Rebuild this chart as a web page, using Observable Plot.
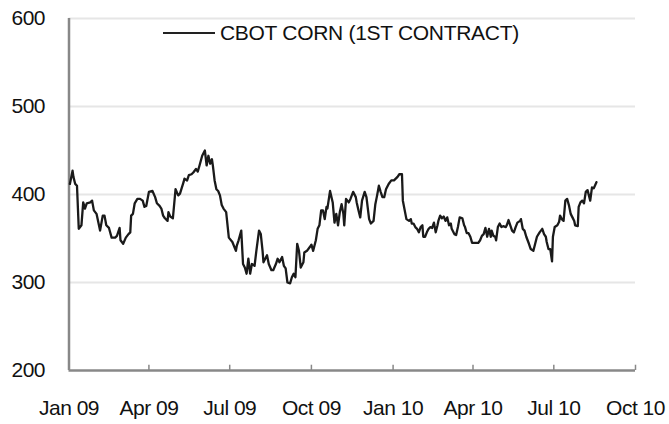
<!DOCTYPE html>
<html>
<head>
<meta charset="utf-8">
<script src="https://cdn.jsdelivr.net/npm/d3@7"></script>
<script src="https://cdn.jsdelivr.net/npm/@observablehq/plot@0.6"></script>
<style>
  html, body { margin: 0; padding: 0; background: #fff; }
  #wrap { position: relative; width: 669px; height: 424px; font-family: "Liberation Sans", Arial, sans-serif; }
  #legend { position: absolute; left: 163px; top: 21px; display: flex; align-items: center; font-size: 21px; color: #111; letter-spacing: -0.3px; white-space: nowrap; }
  #legend .sw { width: 52px; height: 0; border-top: 2px solid #222; margin-right: 5px; }
</style>
</head>
<body>
<div id="wrap"><div id="legend"><span class="sw"></span><span>CBOT CORN (1ST CONTRACT)</span></div></div>
<script>
const seriesName = "CBOT CORN (1ST CONTRACT)";
const dates = [
"2009-01-02","2009-01-05","2009-01-06","2009-01-08","2009-01-10","2009-01-12","2009-01-15","2009-01-17","2009-01-19","2009-01-21",
"2009-01-25","2009-01-27","2009-01-29","2009-02-01","2009-02-05","2009-02-08","2009-02-10","2009-02-12","2009-02-15","2009-02-18",
"2009-02-22","2009-02-24","2009-02-27","2009-02-28","2009-03-03","2009-03-06","2009-03-09","2009-03-11","2009-03-12","2009-03-14",
"2009-03-16","2009-03-19","2009-03-22","2009-03-25","2009-03-27","2009-03-29","2009-04-01","2009-04-05","2009-04-08","2009-04-10",
"2009-04-13","2009-04-15","2009-04-17","2009-04-19","2009-04-22","2009-04-23","2009-04-25","2009-04-28","2009-05-01","2009-05-04",
"2009-05-06","2009-05-10","2009-05-11","2009-05-14","2009-05-16","2009-05-19","2009-05-21","2009-05-24","2009-05-26","2009-05-28",
"2009-05-31","2009-06-03","2009-06-05","2009-06-07","2009-06-09","2009-06-11","2009-06-12","2009-06-14","2009-06-16","2009-06-18",
"2009-06-20","2009-06-22","2009-06-24","2009-06-27","2009-06-30","2009-07-04","2009-07-08","2009-07-09","2009-07-11","2009-07-14",
"2009-07-16","2009-07-18","2009-07-20","2009-07-22","2009-07-24","2009-07-26","2009-07-29","2009-07-31","2009-08-03","2009-08-05",
"2009-08-07","2009-08-08","2009-08-10","2009-08-12","2009-08-14","2009-08-17","2009-08-19","2009-08-22","2009-08-24","2009-08-26",
"2009-08-29","2009-08-31","2009-09-02","2009-09-04","2009-09-07","2009-09-09","2009-09-11","2009-09-13","2009-09-15","2009-09-17",
"2009-09-19","2009-09-22","2009-09-23","2009-09-26","2009-09-29","2009-10-01","2009-10-03","2009-10-06","2009-10-08","2009-10-10",
"2009-10-12","2009-10-14","2009-10-16","2009-10-18","2009-10-19","2009-10-22","2009-10-25","2009-10-27","2009-10-29","2009-10-31",
"2009-11-02","2009-11-04","2009-11-06","2009-11-07","2009-11-09","2009-11-12","2009-11-14","2009-11-17","2009-11-20","2009-11-21",
"2009-11-23","2009-11-25","2009-11-27","2009-11-30","2009-12-02","2009-12-05","2009-12-07","2009-12-10","2009-12-12","2009-12-14",
"2009-12-16","2009-12-18","2009-12-20","2009-12-22","2009-12-24","2009-12-27","2009-12-30","2010-01-02","2010-01-04","2010-01-06",
"2010-01-08","2010-01-11","2010-01-12","2010-01-16","2010-01-19","2010-01-21","2010-01-22","2010-01-24","2010-01-26","2010-01-28",
"2010-01-30","2010-02-01","2010-02-03","2010-02-04","2010-02-06","2010-02-08","2010-02-10","2010-02-12","2010-02-14","2010-02-16",
"2010-02-18","2010-02-20","2010-02-21","2010-02-23","2010-02-25","2010-02-27","2010-03-01","2010-03-03","2010-03-05","2010-03-07",
"2010-03-08","2010-03-11","2010-03-13","2010-03-15","2010-03-17","2010-03-20","2010-03-22","2010-03-23","2010-03-25","2010-03-27",
"2010-03-29","2010-03-31","2010-04-04","2010-04-07","2010-04-09","2010-04-11","2010-04-13","2010-04-15","2010-04-17","2010-04-19",
"2010-04-21","2010-04-22","2010-04-24","2010-04-26","2010-04-27","2010-04-29","2010-05-01","2010-05-03","2010-05-05","2010-05-08",
"2010-05-09","2010-05-11","2010-05-13","2010-05-15","2010-05-17","2010-05-19","2010-05-21","2010-05-24","2010-05-25","2010-05-27",
"2010-05-29","2010-05-31","2010-06-03","2010-06-05","2010-06-08","2010-06-10","2010-06-12","2010-06-15","2010-06-18","2010-06-20",
"2010-06-22","2010-06-23","2010-06-25","2010-06-27","2010-06-29","2010-06-30","2010-07-02","2010-07-05","2010-07-07","2010-07-08",
"2010-07-10","2010-07-12","2010-07-14","2010-07-16","2010-07-18","2010-07-20","2010-07-22","2010-07-24","2010-07-25","2010-07-28",
"2010-07-29","2010-07-31","2010-08-02","2010-08-04","2010-08-06","2010-08-08","2010-08-09","2010-08-11","2010-08-13","2010-08-15",
"2010-08-18"
];
const prices = [
412,427,420,412,410,361,365,391,384,390,
391,393,382,378,359,376,376,365,362,351,
351,353,362,348,344,351,355,357,376,378,
390,395,395,393,386,387,403,404,397,390,
387,384,376,373,370,380,375,373,406,399,
401,414,418,416,422,423,425,429,426,433,
444,450,433,444,435,440,433,416,406,404,
399,388,384,380,351,346,336,342,348,359,
321,317,310,327,310,321,319,336,359,355,
336,323,327,331,321,314,314,321,327,323,
329,319,316,300,299,306,310,306,344,336,
317,323,334,336,340,343,336,348,361,365,
382,382,372,386,384,404,391,368,378,365,
380,389,378,365,395,391,395,403,397,391,
382,374,393,403,397,372,367,370,389,399,
410,403,397,397,406,412,416,416,418,420,
423,423,393,372,370,372,367,367,363,361,
357,363,365,352,352,357,361,363,362,368,
357,365,370,376,373,375,370,374,365,367,
361,355,354,363,374,373,365,363,356,356,
352,345,345,345,348,353,355,362,352,361,
352,359,353,352,348,363,367,363,364,363,
365,371,365,359,357,363,368,370,372,361,
359,352,344,338,336,344,352,357,361,355,
352,346,338,338,324,352,363,365,369,376,
372,370,393,395,388,378,374,370,365,364,
386,391,393,390,403,405,401,393,408,407,
414
];
const yTicks = [200, 300, 400, 500, 600];
const gridValues = [300, 400, 500, 600];
const xTickDates = ["2009-01-01","2009-04-01","2009-07-01","2009-10-01","2010-01-01","2010-04-01","2010-07-01","2010-10-01"];

const parse = d3.utcParse("%Y-%m-%d");
const data = dates.map((d, i) => ({date: parse(d), price: prices[i]}));
const xt = xTickDates.map(parse);
const fmt = d3.utcFormat("%b %y");

const chart = Plot.plot({
  width: 669,
  height: 424,
  marginLeft: 68.5,
  marginRight: 34,
  marginTop: 18,
  marginBottom: 54,
  style: {fontFamily: "'Liberation Sans', Arial, sans-serif", fontSize: "21px", color: "#111", background: "transparent", overflow: "visible"},
  x: {type: "utc", domain: [xt[0], xt[xt.length - 1]], label: null},
  y: {domain: [200, 600], label: null},
  marks: [
    Plot.ruleY(gridValues, {stroke: "#e6e6e6", strokeWidth: 2}),
    Plot.ruleX(xt.slice(1), {y1: 200, y2: 206, stroke: "#888", strokeWidth: 1.5}),
    Plot.ruleX([xt[0]], {stroke: "#888", strokeWidth: 2.5}),
    Plot.ruleY([200], {stroke: "#888", strokeWidth: 2.5}),
    Plot.lineY(data, {x: "date", y: "price", stroke: "#1a1a1a", strokeWidth: 2.3, curve: "linear"}),
    Plot.axisY({ticks: yTicks, tickSize: 0, tickPadding: 24, tickFormat: d => String(d), fontSize: 21, textAnchor: "end", label: null}),
    Plot.axisX({ticks: xt, tickSize: 0, tickPadding: 30, tickFormat: fmt, fontSize: 21, label: null})
  ]
});
chart.style.position = "absolute";
chart.style.left = "0";
chart.style.top = "0";
chart.style.letterSpacing = "-0.5px";
document.getElementById("wrap").prepend(chart);
</script>
</body>
</html>
